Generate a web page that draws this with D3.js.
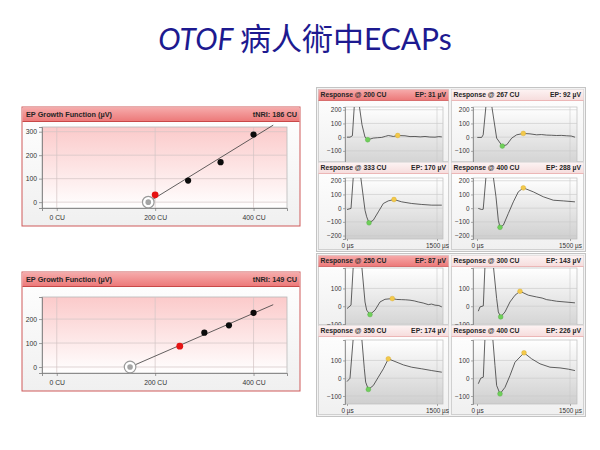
<!DOCTYPE html>
<html><head><meta charset="utf-8">
<script src="https://cdn.jsdelivr.net/npm/d3@7"></script>
<style>body{margin:0;background:#fff}svg{display:block}</style>
</head><body>
<svg id="c" width="600" height="450"></svg>
<script>
// ---------- data ----------
const titleItalic = "OTOF";
const titleCJK = "病人術中";
const titleTail = "ECAPs";

const cuTicks = [0, 200, 400];
const cuTickLabels = ["0 CU", "200 CU", "400 CU"];

const growthCU1 = [200, 267, 333, 400];
const growthEP1 = [31, 92, 170, 288];
const tNRI1 = 186;
const fitEnd1 = [440, 328];
const epTicks1 = [0, 100, 200, 300];

const growthCU2 = [250, 300, 350, 400];
const growthEP2 = [87, 143, 174, 226];
const tNRI2 = 149;
const fitEnd2 = [440, 260];
const epTicks2 = [0, 100, 200];

const respCU = [200, 267, 333, 400, 250, 300, 350, 400];
const respEP = [31, 92, 170, 288, 87, 143, 174, 226];
const respTicksTop = [-100, 0, 100, 200];
const respTicksA = [-200, -100, 0, 100, 200];
const respTicksB = [-100, 0, 100];
const timeTicks = [0, 1500];
const timeTickLabels = ["0 µs", "1500 µs"];

const wave200 = [[0,0],[50,0],[90,10],[122,230],[165,420],[205,230],[250,90],[300,0],[345,-19],[438,-7],[510,-4],[578,-2],[640,6],[688,12],[730,9],[772,5],[845,12],[967,10],[1050,4],[1133,5],[1220,2],[1300,5],[1380,1],[1467,0],[1530,4],[1580,2]];
const wave267 = [[5,-2],[75,-2],[100,17],[145,230],[190,420],[237,230],[317,-7],[408,-65],[479,-56],[560,-7],[640,17],[747,27],[855,24],[962,17],[1040,19],[1124,15],[1200,14],[1285,12],[1360,13],[1447,10],[1520,8],[1580,0]];
const wave333 = [[0,-10],[67,-2],[105,230],[165,420],[228,230],[300,-15],[328,-63],[367,-107],[438,-88],[522,-27],[605,34],[688,53],[783,63],[912,46],[1078,34],[1245,27],[1412,22],[1580,22]];
const wave400a = [[21,-2],[75,-10],[100,-8],[145,230],[205,420],[263,230],[306,83],[344,-88],[371,-140],[425,-124],[505,-39],[586,46],[666,119],[747,148],[908,119],[1069,83],[1231,58],[1392,53],[1580,46]];
const wave250 = [[0,-13],[67,6],[105,230],[175,420],[245,230],[300,24],[328,-22],[383,-47],[467,-22],[550,24],[633,39],[755,43],[830,38],[912,37],[980,36],[1050,34],[1120,30],[1188,24],[1270,18],[1355,9],[1410,12],[1467,6],[1530,4],[1580,-4]];
const wave300 = [[21,-28],[48,-4],[102,2],[129,230],[196,420],[263,230],[317,43],[344,-32],[382,-60],[452,-32],[532,24],[613,62],[694,84],[828,62],[962,52],[1050,46],[1124,37],[1200,33],[1285,28],[1419,24],[1580,19]];
const wave350 = [[0,-19],[50,0],[105,230],[175,420],[245,230],[289,53],[311,-22],[356,-63],[439,-41],[522,6],[606,53],[689,109],[800,94],[939,75],[1078,62],[1245,53],[1412,43],[1580,34]];
const wave400b = [[21,-31],[60,0],[102,6],[129,230],[190,420],[253,230],[290,71],[317,-41],[371,-88],[452,-51],[532,15],[613,90],[758,143],[882,109],[1016,81],[1177,62],[1339,58],[1473,51],[1580,43]];
const waves = [wave200, wave267, wave333, wave400a, wave250, wave300, wave350, wave400b];
const n1Points = [[345,-19],[408,-65],[367,-107],[371,-140],[383,-47],[382,-60],[356,-63],[371,-88]];
const p2Points = [[845,12],[747,27],[783,63],[747,148],[755,43],[694,84],[689,109],[758,143]];

// ---------- drawing ----------
const svg = d3.select("#c");
const defs = svg.append("defs");
function grad(id, stops) {
  const g = defs.append("linearGradient").attr("id", id).attr("x1",0).attr("y1",0).attr("x2",0).attr("y2",1);
  stops.forEach(s => g.append("stop").attr("offset", s[0]).attr("stop-color", s[1]));
}
grad("gPink", [[0,"#fbcaca"],[1,"#ffffff"]]);
grad("gHeadRed", [[0,"#f6abab"],[1,"#ec7878"]]);
grad("gHeadPale", [[0,"#fdf3f3"],[1,"#f6dcdc"]]);
grad("gSmall", [[0,"#ffffff"],[1,"#cfcfcf"]]);
grad("gPanel", [[0,"#ffffff"],[1,"#f0f0f0"]]);

// title
const title = svg.append("text").attr("x", 305).attr("y", 50).attr("text-anchor","middle")
  .attr("fill","#1d1a90").style("font-family","Lato, 'Open Sans', sans-serif").style("font-size","30px");
title.append("tspan").style("font-style","italic").text(titleItalic + " ");
title.append("tspan").style("font-family","'Noto Sans CJK TC'").style("font-size","31px").text(titleCJK);
title.append("tspan").text(titleTail);

const FONT = "'Liberation Sans', Arial, sans-serif";

function bigPanel(o) {
  const g = svg.append("g");
  const x = d3.scaleLinear().domain([-30, 468]).range([42, 287]);
  const y = d3.scaleLinear().domain(o.yDom).range([o.plotB, o.plotT]);
  g.append("rect").attr("x",22).attr("y",o.top).attr("width",278).attr("height",o.bottom-o.top)
    .attr("fill","url(#gPanel)").attr("stroke","#cf5a5a").attr("stroke-width",1);
  g.append("rect").attr("x",22.5).attr("y",o.top+0.5).attr("width",277).attr("height",14)
    .attr("fill","url(#gHeadRed)");
  g.append("line").attr("x1",22.5).attr("x2",299.5).attr("y1",o.top+14.5).attr("y2",o.top+14.5)
    .attr("stroke","#c84848").attr("stroke-width",1);
  g.append("text").attr("x",26).attr("y",o.top+10.3).style("font-family",FONT).style("font-weight","bold")
    .style("font-size","7.3px").attr("fill","#262626").text("EP Growth Function (µV)");
  g.append("text").attr("x",297).attr("y",o.top+10.3).attr("text-anchor","end").style("font-family",FONT)
    .style("font-weight","bold").style("font-size","7.3px").attr("fill","#262626").text(o.label);
  g.append("rect").attr("x",42).attr("y",o.plotT).attr("width",245).attr("height",o.plotB-o.plotT)
    .attr("fill","url(#gPink)").attr("stroke","#b8b8b8").attr("stroke-width",0.8);
  // grid
  g.selectAll(".gx").data(cuTicks).join("line").attr("x1",d=>x(d)).attr("x2",d=>x(d))
    .attr("y1",o.plotT).attr("y2",o.plotB).attr("stroke","#d2c4c4").attr("stroke-width",0.7);
  g.selectAll(".gy").data(o.ticks).join("line").attr("x1",42).attr("x2",287)
    .attr("y1",d=>y(d)).attr("y2",d=>y(d)).attr("stroke","#d2c4c4").attr("stroke-width",0.7);
  // axes
  const minorX = d3.range(-40, 469, 40).filter(v => v >= -30);
  const minorY = d3.range(-20, o.yDom[1], 20).filter(v => v >= o.yDom[0]);
  const ax = g.append("g").attr("transform",`translate(0,${o.plotB})`);
  ax.call(d3.axisBottom(x).tickValues(minorX).tickSize(2).tickFormat(""));
  ax.call(d3.axisBottom(x).tickValues(cuTicks).tickSize(3).tickPadding(4.5).tickFormat((d,i)=>cuTickLabels[i]));
  const ay = g.append("g").attr("transform","translate(42,0)");
  ay.call(d3.axisLeft(y).tickValues(minorY).tickSize(2).tickFormat(""));
  ay.call(d3.axisLeft(y).tickValues(o.ticks).tickSize(3).tickPadding(2));
  [ax, ay].forEach(a => {
    a.selectAll(".domain").attr("stroke","#777").attr("stroke-width",0.8);
    a.selectAll(".tick line").attr("stroke","#777").attr("stroke-width",0.7);
    a.selectAll("text").style("font-family",FONT).style("font-size","6.8px").attr("fill","#333");
  });
  // fit line
  g.append("line").attr("x1",x(o.tnri)).attr("y1",y(0)).attr("x2",x(o.fitEnd[0])).attr("y2",y(o.fitEnd[1]))
    .attr("stroke","#3a3a3a").attr("stroke-width",0.8);
  // threshold marker
  g.append("circle").attr("cx",x(o.tnri)).attr("cy",y(0)).attr("r",5.8).attr("fill","#fff")
    .attr("stroke","#9a9a9a").attr("stroke-width",1.2);
  g.append("circle").attr("cx",x(o.tnri)).attr("cy",y(0)).attr("r",2.8).attr("fill","#a4a4a4");
  g.selectAll(".pt").data(o.cu).join("circle").attr("cx",d=>x(d)).attr("cy",(d,i)=>y(o.ep[i]))
    .attr("r",(d,i)=>i===0?3.4:3.1).attr("fill",(d,i)=>i===0?"#e51414":"#0c0c0c");
}
bigPanel({top:107, bottom:226, plotT:127, plotB:208, yDom:[-25,320], ticks:epTicks1,
  cu:growthCU1, ep:growthEP1, tnri:tNRI1, fitEnd:fitEnd1, label:"tNRI: " + tNRI1 + " CU"});
bigPanel({top:272, bottom:391, plotT:297, plotB:373, yDom:[-25,292], ticks:epTicks2,
  cu:growthCU2, ep:growthEP2, tnri:tNRI2, fitEnd:fitEnd2, label:"tNRI: " + tNRI2 + " CU"});

// small response panels
const cols = [{px:318, pw:131, plotL:345, plotR:443, t0:347, t1:437},
              {px:451, pw:133, plotL:473, plotR:577, t0:477, t1:570}];
const rows = [{hy:89, plotT:107, plotB:168, bottom:162, dom:[-225,220], ticks:respTicksTop, xlab:false},
              {hy:162, plotT:178, plotB:239, bottom:250, dom:[-225,220], ticks:respTicksA, xlab:true},
              {hy:255, plotT:268, plotB:332, bottom:325, dom:[-145,215], ticks:respTicksB, xlab:false},
              {hy:325, plotT:340, plotB:404, bottom:415, dom:[-145,215], ticks:respTicksB, xlab:true}];
// group frames
[[87,251],[253,416]].forEach(f => svg.append("rect").attr("x",316.5).attr("y",f[0]+0.5).attr("width",269)
  .attr("height",f[1]-f[0]).attr("fill","#f3f3f3").attr("stroke","#c4c4c4"));

const lineGen = (x, y) => d3.line().x(d=>x(d[0])).y(d=>y(d[1]));
respCU.forEach((cu, i) => {
  const r = rows[Math.floor(i/2)], c = cols[i%2];
  const selected = (i === 0 || i === 4);
  const pid = "pclip" + i;
  defs.append("clipPath").attr("id",pid).append("rect").attr("x",c.px).attr("y",r.hy)
    .attr("width",c.pw).attr("height",r.bottom-r.hy);
  const g = svg.append("g").attr("clip-path",`url(#${pid})`);
  const x = d3.scaleLinear().domain([0,1500]).range([c.t0, c.t1]);
  const y = d3.scaleLinear().domain(r.dom).range([r.plotB, r.plotT]);
  g.append("rect").attr("x",c.px+0.5).attr("y",r.hy+0.5).attr("width",c.pw-1).attr("height",r.bottom-r.hy-1)
    .attr("fill","url(#gPanel)").attr("stroke","#c8c8c8").attr("stroke-width",0.8);
  g.append("rect").attr("x",c.px+0.5).attr("y",r.hy+0.5).attr("width",c.pw-1).attr("height",11)
    .attr("fill", selected ? "url(#gHeadRed)" : "url(#gHeadPale)");
  g.append("line").attr("x1",c.px+0.5).attr("x2",c.px+c.pw-0.5).attr("y1",r.hy+11.5).attr("y2",r.hy+11.5)
    .attr("stroke", selected ? "#d05a5a" : "#e8a8a8").attr("stroke-width",0.8);
  g.append("text").attr("x",c.px+2.5).attr("y",r.hy+8.4).style("font-family",FONT).style("font-weight","bold")
    .style("font-size","6.8px").attr("fill","#262626").text("Response @ " + cu + " CU");
  g.append("text").attr("x",c.px+c.pw-3).attr("y",r.hy+8.4).attr("text-anchor","end").style("font-family",FONT)
    .style("font-weight","bold").style("font-size","6.8px").attr("fill","#262626").text("EP: " + respEP[i] + " µV");
  g.append("rect").attr("x",c.plotL).attr("y",r.plotT).attr("width",c.plotR-c.plotL).attr("height",r.plotB-r.plotT)
    .attr("fill","url(#gSmall)").attr("stroke","#bdbdbd").attr("stroke-width",0.7);
  g.selectAll(".gy").data(r.ticks).join("line").attr("x1",c.plotL).attr("x2",c.plotR)
    .attr("y1",d=>y(d)).attr("y2",d=>y(d)).attr("stroke","#c9c9c9").attr("stroke-width",0.6);
  g.append("line").attr("x1",x(1500)).attr("x2",x(1500)).attr("y1",r.plotT).attr("y2",r.plotB)
    .attr("stroke","#c9c9c9").attr("stroke-width",0.6);
  const ay = g.append("g").attr("transform",`translate(${c.plotL},0)`)
    .call(d3.axisLeft(y).tickValues(r.ticks).tickSize(2).tickPadding(1.5));
  ay.selectAll(".domain").attr("stroke","#777").attr("stroke-width",0.7);
  ay.selectAll(".tick line").attr("stroke","#777").attr("stroke-width",0.6);
  ay.selectAll("text").style("font-family",FONT).style("font-size","6.4px").attr("fill","#333");
  if (r.xlab) {
    const ax = g.append("g").attr("transform",`translate(0,${r.plotB})`)
      .call(d3.axisBottom(x).tickValues(timeTicks).tickSize(2).tickPadding(2.5).tickFormat((d,k)=>timeTickLabels[k]));
    ax.select(".domain").remove();
    ax.selectAll(".tick line").attr("stroke","#777").attr("stroke-width",0.6);
    ax.selectAll("text").style("font-family",FONT).style("font-size","6.4px").attr("fill","#333");
  }
  const cid = "clip" + i;
  defs.append("clipPath").attr("id",cid).append("rect").attr("x",c.plotL).attr("y",r.plotT)
    .attr("width",c.plotR-c.plotL).attr("height",r.plotB-r.plotT);
  g.append("g").attr("clip-path",`url(#${cid})`).append("path").attr("d", lineGen(x,y)(waves[i]))
    .attr("fill","none").attr("stroke","#3a3a3a").attr("stroke-width",0.8);
  g.append("circle").attr("cx",x(n1Points[i][0])).attr("cy",y(n1Points[i][1])).attr("r",2.4)
    .attr("fill","#6fcf5a").attr("stroke","#4fa83c").attr("stroke-width",0.4);
  g.append("circle").attr("cx",x(p2Points[i][0])).attr("cy",y(p2Points[i][1])).attr("r",2.4)
    .attr("fill","#f3c94a").attr("stroke","#d6a82a").attr("stroke-width",0.4);
});
</script>
</body></html>
